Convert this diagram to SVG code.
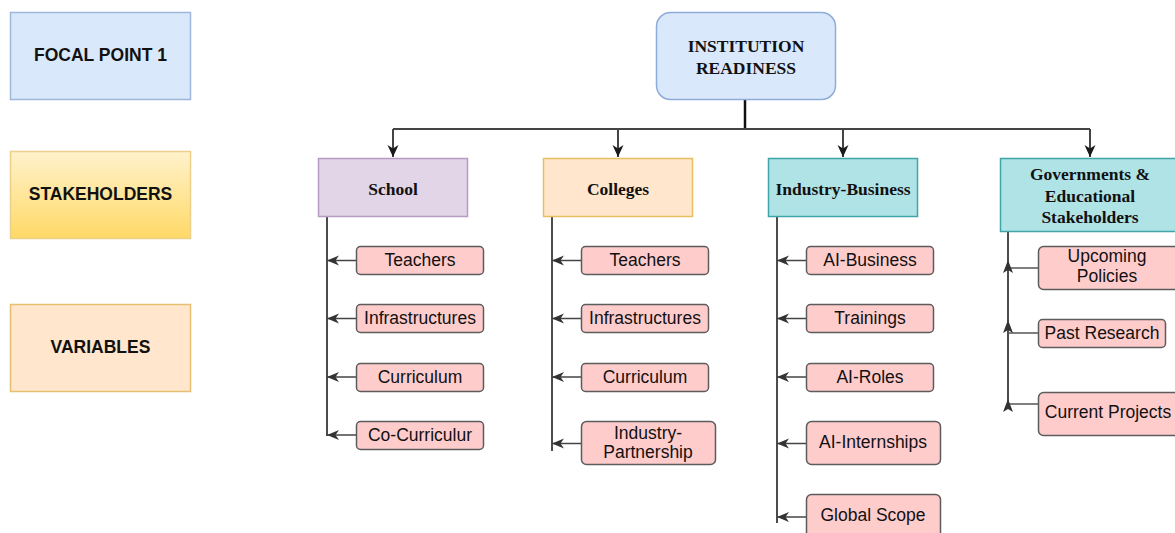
<svg xmlns="http://www.w3.org/2000/svg" width="1175" height="533" viewBox="0 0 1175 533">
  <defs>
    <linearGradient id="gradStake" x1="0" y1="0" x2="0" y2="1">
      <stop offset="0" stop-color="#fff2cc"/>
      <stop offset="1" stop-color="#ffd966"/>
    </linearGradient>
    <marker id="arrowDown" markerUnits="userSpaceOnUse" markerWidth="13" markerHeight="13" viewBox="0 0 13 13" refX="12" refY="6.5" orient="auto">
      <path d="M0,1 L12,6.5 L0,12 L3.5,6.5 z" fill="#1a1a1a"/>
    </marker>
    <marker id="arrowLeft" markerUnits="userSpaceOnUse" markerWidth="13" markerHeight="11" viewBox="0 0 13 11" refX="12" refY="5.5" orient="auto">
      <path d="M0,0.5 L12,5.5 L0,10.5 L3.5,5.5 z" fill="#333"/>
    </marker>
    <path id="upHead" d="M0,-9 L5,4 L0,1 L-5,4 z"/>
  </defs>
  <style>
    .legendText { font-family: "Liberation Sans", Arial, sans-serif; font-weight: bold; font-size: 17.5px; fill: #111; text-anchor: middle; }
    .headText { font-family: "Liberation Serif", "Times New Roman", serif; font-weight: bold; font-size: 17.5px; fill: #111; text-anchor: middle; }
    .itemText { font-family: "Liberation Sans", Arial, sans-serif; font-size: 17.5px; fill: #111; text-anchor: middle; }
    .item { fill: #ffcccc; stroke: #5c5c5c; stroke-width: 1.5; }
    .trunk { fill: none; stroke: #111; stroke-width: 1.5; }
    .branch { fill: none; stroke: #444; stroke-width: 1.5; marker-end: url(#arrowLeft); }
    .feed { fill: none; stroke: #555; stroke-width: 1.5; }
    .up { fill: #333; }
  </style>

  <!-- Legend -->
  <g id="legend-focal">
    <rect x="10.5" y="12.5" width="180" height="87" fill="#dae8fc" stroke="#9fb6d9" stroke-width="1.5"/>
    <text class="legendText" x="100.5" y="61">FOCAL POINT 1</text>
  </g>
  <g id="legend-stakeholders">
    <rect x="10.5" y="151.5" width="180" height="87" fill="url(#gradStake)" stroke="#ecd08a" stroke-width="1.5"/>
    <text class="legendText" x="100.5" y="200">STAKEHOLDERS</text>
  </g>
  <g id="legend-variables">
    <rect x="10.5" y="304.5" width="180" height="87" fill="#ffe6cc" stroke="#e6c070" stroke-width="1.5"/>
    <text class="legendText" x="100.5" y="353">VARIABLES</text>
  </g>

  <!-- Connectors -->
  <g id="connectors">
    <path d="M745,100 V129" fill="none" stroke="#111" stroke-width="2.5"/>
    <path d="M393,129 H1090" fill="none" stroke="#444" stroke-width="2"/>
    <path d="M393,129 V157" fill="none" stroke="#444" stroke-width="2" marker-end="url(#arrowDown)"/>
    <path d="M618,129 V157" fill="none" stroke="#444" stroke-width="2" marker-end="url(#arrowDown)"/>
    <path d="M843,129 V157" fill="none" stroke="#444" stroke-width="2" marker-end="url(#arrowDown)"/>
    <path d="M1090,129 V157" fill="none" stroke="#444" stroke-width="2" marker-end="url(#arrowDown)"/>

    <!-- School -->
    <path class="trunk" d="M327,217 V436"/>
    <path class="branch" d="M356,260.5 H327"/>
    <path class="branch" d="M356,318.5 H327"/>
    <path class="branch" d="M356,377 H327"/>
    <path class="branch" d="M356,435 H327"/>

    <!-- Colleges -->
    <path class="trunk" d="M552,217 V451"/>
    <path class="branch" d="M581,260.5 H552"/>
    <path class="branch" d="M581,318.5 H552"/>
    <path class="branch" d="M581,377 H552"/>
    <path class="branch" d="M581,443.5 H552"/>

    <!-- Industry-Business -->
    <path class="trunk" d="M777,217 V523"/>
    <path class="branch" d="M806,260.5 H777"/>
    <path class="branch" d="M806,318.5 H777"/>
    <path class="branch" d="M806,377 H777"/>
    <path class="branch" d="M806,443.5 H777"/>
    <path class="branch" d="M806,517 H777"/>

    <!-- Governments -->
    <path class="trunk" d="M1008,232 V405"/>
    <path class="feed" d="M1038,268 H1008"/>
    <path class="feed" d="M1038,333 H1008"/>
    <path class="feed" d="M1038,404 H1008"/>
    <use href="#upHead" class="up" x="1008" y="269"/>
    <use href="#upHead" class="up" x="1008" y="329"/>
    <use href="#upHead" class="up" x="1008" y="408"/>
  </g>

  <!-- Root -->
  <g id="node-root">
    <rect x="656.5" y="12.5" width="179" height="87" rx="14" fill="#dae8fc" stroke="#8eacd8" stroke-width="1.5"/>
    <text class="headText" x="746" y="52">INSTITUTION</text>
    <text class="headText" x="746" y="74">READINESS</text>
  </g>

  <!-- Stakeholders -->
  <g id="node-school">
    <rect x="318.5" y="158.5" width="149" height="58" fill="#e1d5e7" stroke="#b69bc2" stroke-width="1.5"/>
    <text class="headText" x="393" y="195">School</text>
  </g>
  <g id="node-colleges">
    <rect x="543.5" y="158.5" width="149" height="58" fill="#ffe6cc" stroke="#e6c060" stroke-width="1.5"/>
    <text class="headText" x="618" y="195">Colleges</text>
  </g>
  <g id="node-industry">
    <rect x="768.5" y="158.5" width="149" height="58" fill="#b0e3e6" stroke="#3fa5a9" stroke-width="1.5"/>
    <text class="headText" x="843" y="195">Industry-Business</text>
  </g>
  <g id="node-government">
    <rect x="1000.5" y="158.5" width="180" height="73" fill="#b0e3e6" stroke="#3fa5a9" stroke-width="1.5"/>
    <text class="headText" x="1090" y="180">Governments &amp;</text>
    <text class="headText" x="1090" y="202">Educational</text>
    <text class="headText" x="1090" y="223">Stakeholders</text>
  </g>

  <!-- School variables -->
  <g id="school-teachers">
    <rect class="item" x="356.5" y="246.5" width="127" height="28" rx="4"/>
    <text class="itemText" x="420" y="266">Teachers</text>
  </g>
  <g id="school-infrastructures">
    <rect class="item" x="356.5" y="304.5" width="127" height="28" rx="4"/>
    <text class="itemText" x="420" y="324">Infrastructures</text>
  </g>
  <g id="school-curriculum">
    <rect class="item" x="356.5" y="363.5" width="127" height="28" rx="4"/>
    <text class="itemText" x="420" y="383">Curriculum</text>
  </g>
  <g id="school-cocurriculur">
    <rect class="item" x="356.5" y="421.5" width="127" height="28" rx="4"/>
    <text class="itemText" x="420" y="441">Co-Curriculur</text>
  </g>

  <!-- College variables -->
  <g id="college-teachers">
    <rect class="item" x="581.5" y="246.5" width="127" height="28" rx="4"/>
    <text class="itemText" x="645" y="266">Teachers</text>
  </g>
  <g id="college-infrastructures">
    <rect class="item" x="581.5" y="304.5" width="127" height="28" rx="4"/>
    <text class="itemText" x="645" y="324">Infrastructures</text>
  </g>
  <g id="college-curriculum">
    <rect class="item" x="581.5" y="363.5" width="127" height="28" rx="4"/>
    <text class="itemText" x="645" y="383">Curriculum</text>
  </g>
  <g id="college-partnership">
    <rect class="item" x="581.5" y="421.5" width="134" height="43" rx="5"/>
    <text class="itemText" x="648" y="439">Industry-</text>
    <text class="itemText" x="648" y="458">Partnership</text>
  </g>

  <!-- Industry variables -->
  <g id="industry-ai-business">
    <rect class="item" x="806.5" y="246.5" width="127" height="28" rx="4"/>
    <text class="itemText" x="870" y="266">AI-Business</text>
  </g>
  <g id="industry-trainings">
    <rect class="item" x="806.5" y="304.5" width="127" height="28" rx="4"/>
    <text class="itemText" x="870" y="324">Trainings</text>
  </g>
  <g id="industry-ai-roles">
    <rect class="item" x="806.5" y="363.5" width="127" height="28" rx="4"/>
    <text class="itemText" x="870" y="383">AI-Roles</text>
  </g>
  <g id="industry-ai-internships">
    <rect class="item" x="806.5" y="421.5" width="134" height="43" rx="5"/>
    <text class="itemText" x="873" y="448">AI-Internships</text>
  </g>
  <g id="industry-global-scope">
    <rect class="item" x="806.5" y="494.5" width="134" height="43" rx="5"/>
    <text class="itemText" x="873" y="521">Global Scope</text>
  </g>

  <!-- Government variables -->
  <g id="gov-upcoming-policies">
    <rect class="item" x="1038.5" y="246.5" width="145" height="43" rx="5"/>
    <text class="itemText" x="1107" y="262">Upcoming</text>
    <text class="itemText" x="1107" y="282">Policies</text>
  </g>
  <g id="gov-past-research">
    <rect class="item" x="1038.5" y="319.5" width="127" height="28" rx="4"/>
    <text class="itemText" x="1102" y="339">Past Research</text>
  </g>
  <g id="gov-current-projects">
    <rect class="item" x="1038.5" y="392.5" width="145" height="43" rx="5"/>
    <text class="itemText" x="1108" y="418">Current Projects</text>
  </g>
</svg>
